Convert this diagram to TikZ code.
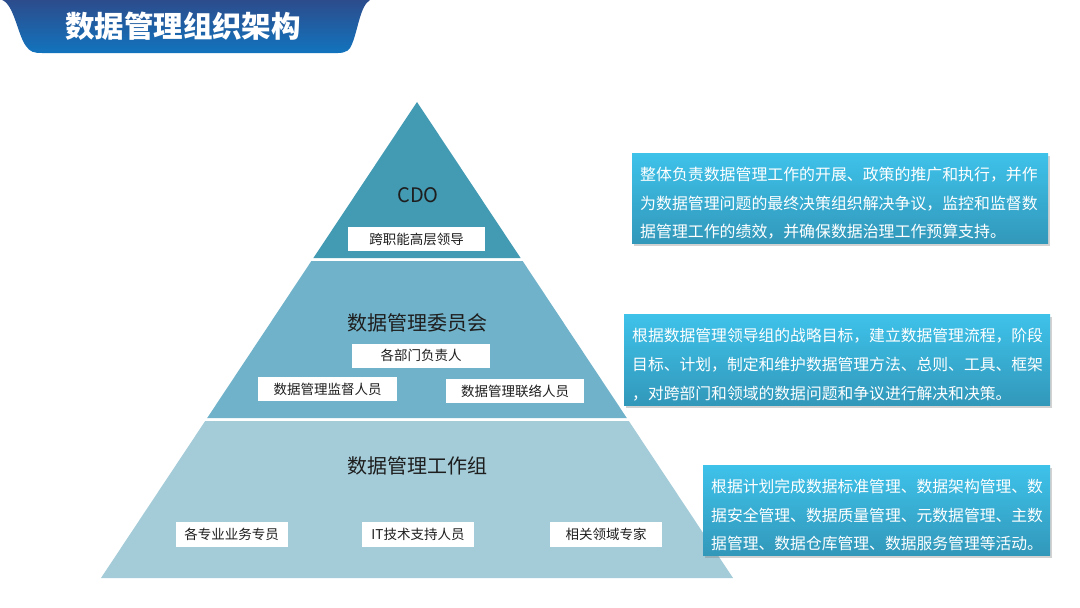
\documentclass[tikz,border=0pt]{standalone}
\usepackage{fontspec}
\setmainfont{Noto Sans CJK SC}
\usetikzlibrary{shadows}
\definecolor{tierA}{RGB}{67,154,179}
\definecolor{tierB}{RGB}{112,178,201}
\definecolor{tierC}{RGB}{163,203,216}
\definecolor{bannerTop}{RGB}{44,76,140}
\definecolor{bannerBot}{RGB}{18,116,190}
\definecolor{descTop}{RGB}{62,194,234}
\definecolor{descBot}{RGB}{50,152,186}
\definecolor{labelText}{RGB}{30,30,30}
\tikzset{
  tiertitle/.style={font=\fontsize{20}{24}\selectfont, text=labelText, inner sep=0pt},
  rolebox/.style={fill=white, text=labelText, font=\fontsize{13.5}{16}\selectfont, minimum height=24pt, inner sep=0pt, anchor=center},
  descbox/.style={top color=descTop, bottom color=descBot, draw=none,
    drop shadow={opacity=0.35, shadow xshift=1.5pt, shadow yshift=-2.5pt},
    anchor=north west, inner sep=0pt},
  desctext/.style={text=white, align=left, anchor=west, inner sep=0pt,
    font=\fontsize{15.8}{28.6}\selectfont}
}
\begin{document}
\begin{tikzpicture}[x=1pt,y=-1pt]
\useasboundingbox (0,0) rectangle (1080,608);
\fill[white] (0,0) rectangle (1080,608);

% title banner
\shade[top color=bannerTop, bottom color=bannerBot]
  (2,0) .. controls (14,4) and (18,36) .. (26,46)
  .. controls (30,52) and (34,53) .. (42,53)
  -- (338,53) .. controls (346,53) and (350,50) .. (352,44)
  .. controls (358,30) and (360,6) .. (370,0) -- cycle;
\node[font=\fontsize{29.5}{32}\selectfont\bfseries, text=white, inner sep=0pt] (title) at (183,26) {数据管理组织架构};

% pyramid tiers
\fill[tierA] (417,102) -- (520.6,258) -- (313.4,258) -- cycle;
\fill[tierB] (311.4,261) -- (522.6,261) -- (626.8,418) -- (207.2,418) -- cycle;
\fill[tierC] (205.2,421) -- (628.8,421) -- (733,578) -- (101,578) -- cycle;

% top tier
\node[tiertitle] (cdo) at (418,195) {CDO};
\node[rolebox, minimum width=137pt] (lead) at (416.5,239) {跨职能高层领导};

% middle tier
\node[tiertitle] (committee) at (417,323) {数据管理委员会};
\node[rolebox, minimum width=138pt] (dept) at (421,355.5) {各部门负责人};
\node[rolebox, minimum width=139pt] (supervise) at (327.5,389) {数据管理监督人员};
\node[rolebox, minimum width=138pt] (liaison) at (515,391) {数据管理联络人员};

% bottom tier
\node[tiertitle] (workgroup) at (417,466) {数据管理工作组};
\node[rolebox, minimum width=112pt, minimum height=25pt] (biz) at (231.5,534.5) {各专业业务专员};
\node[rolebox, minimum width=112pt, minimum height=25pt] (it) at (418,534.5) {IT技术支持人员};
\node[rolebox, minimum width=112pt, minimum height=25pt] (expert) at (606,534.5) {相关领域专家};

% description boxes
\node[descbox, minimum width=416pt, minimum height=90pt] (d1) at (632,153) {};
\node[desctext, font=\fontsize{15.9}{28.6}\selectfont] (t1) at ([xshift=8pt,yshift=-5pt]d1.west)
  {整体负责数据管理工作的开展、政策的推广和执行，并作\\为数据管理问题的最终决策组织解决争议，监控和监督数\\据管理工作的绩效，并确保数据治理工作预算支持。};
\node[descbox, minimum width=426pt, minimum height=91pt] (d2) at (624,314) {};
\node[desctext] (t2) at ([xshift=8pt,yshift=-5pt]d2.west)
  {根据数据管理领导组的战略目标，建立数据管理流程，阶段\\目标、计划，制定和维护数据管理方法、总则、工具、框架\\，对跨部门和领域的数据问题和争议进行解决和决策。};
\node[descbox, minimum width=347pt, minimum height=90pt] (d3) at (703,465) {};
\node[desctext] (t3) at ([xshift=8pt,yshift=-5pt]d3.west)
  {根据计划完成数据标准管理、数据架构管理、数\\据安全管理、数据质量管理、元数据管理、主数\\据管理、数据仓库管理、数据服务管理等活动。};
\end{tikzpicture}
\end{document}
